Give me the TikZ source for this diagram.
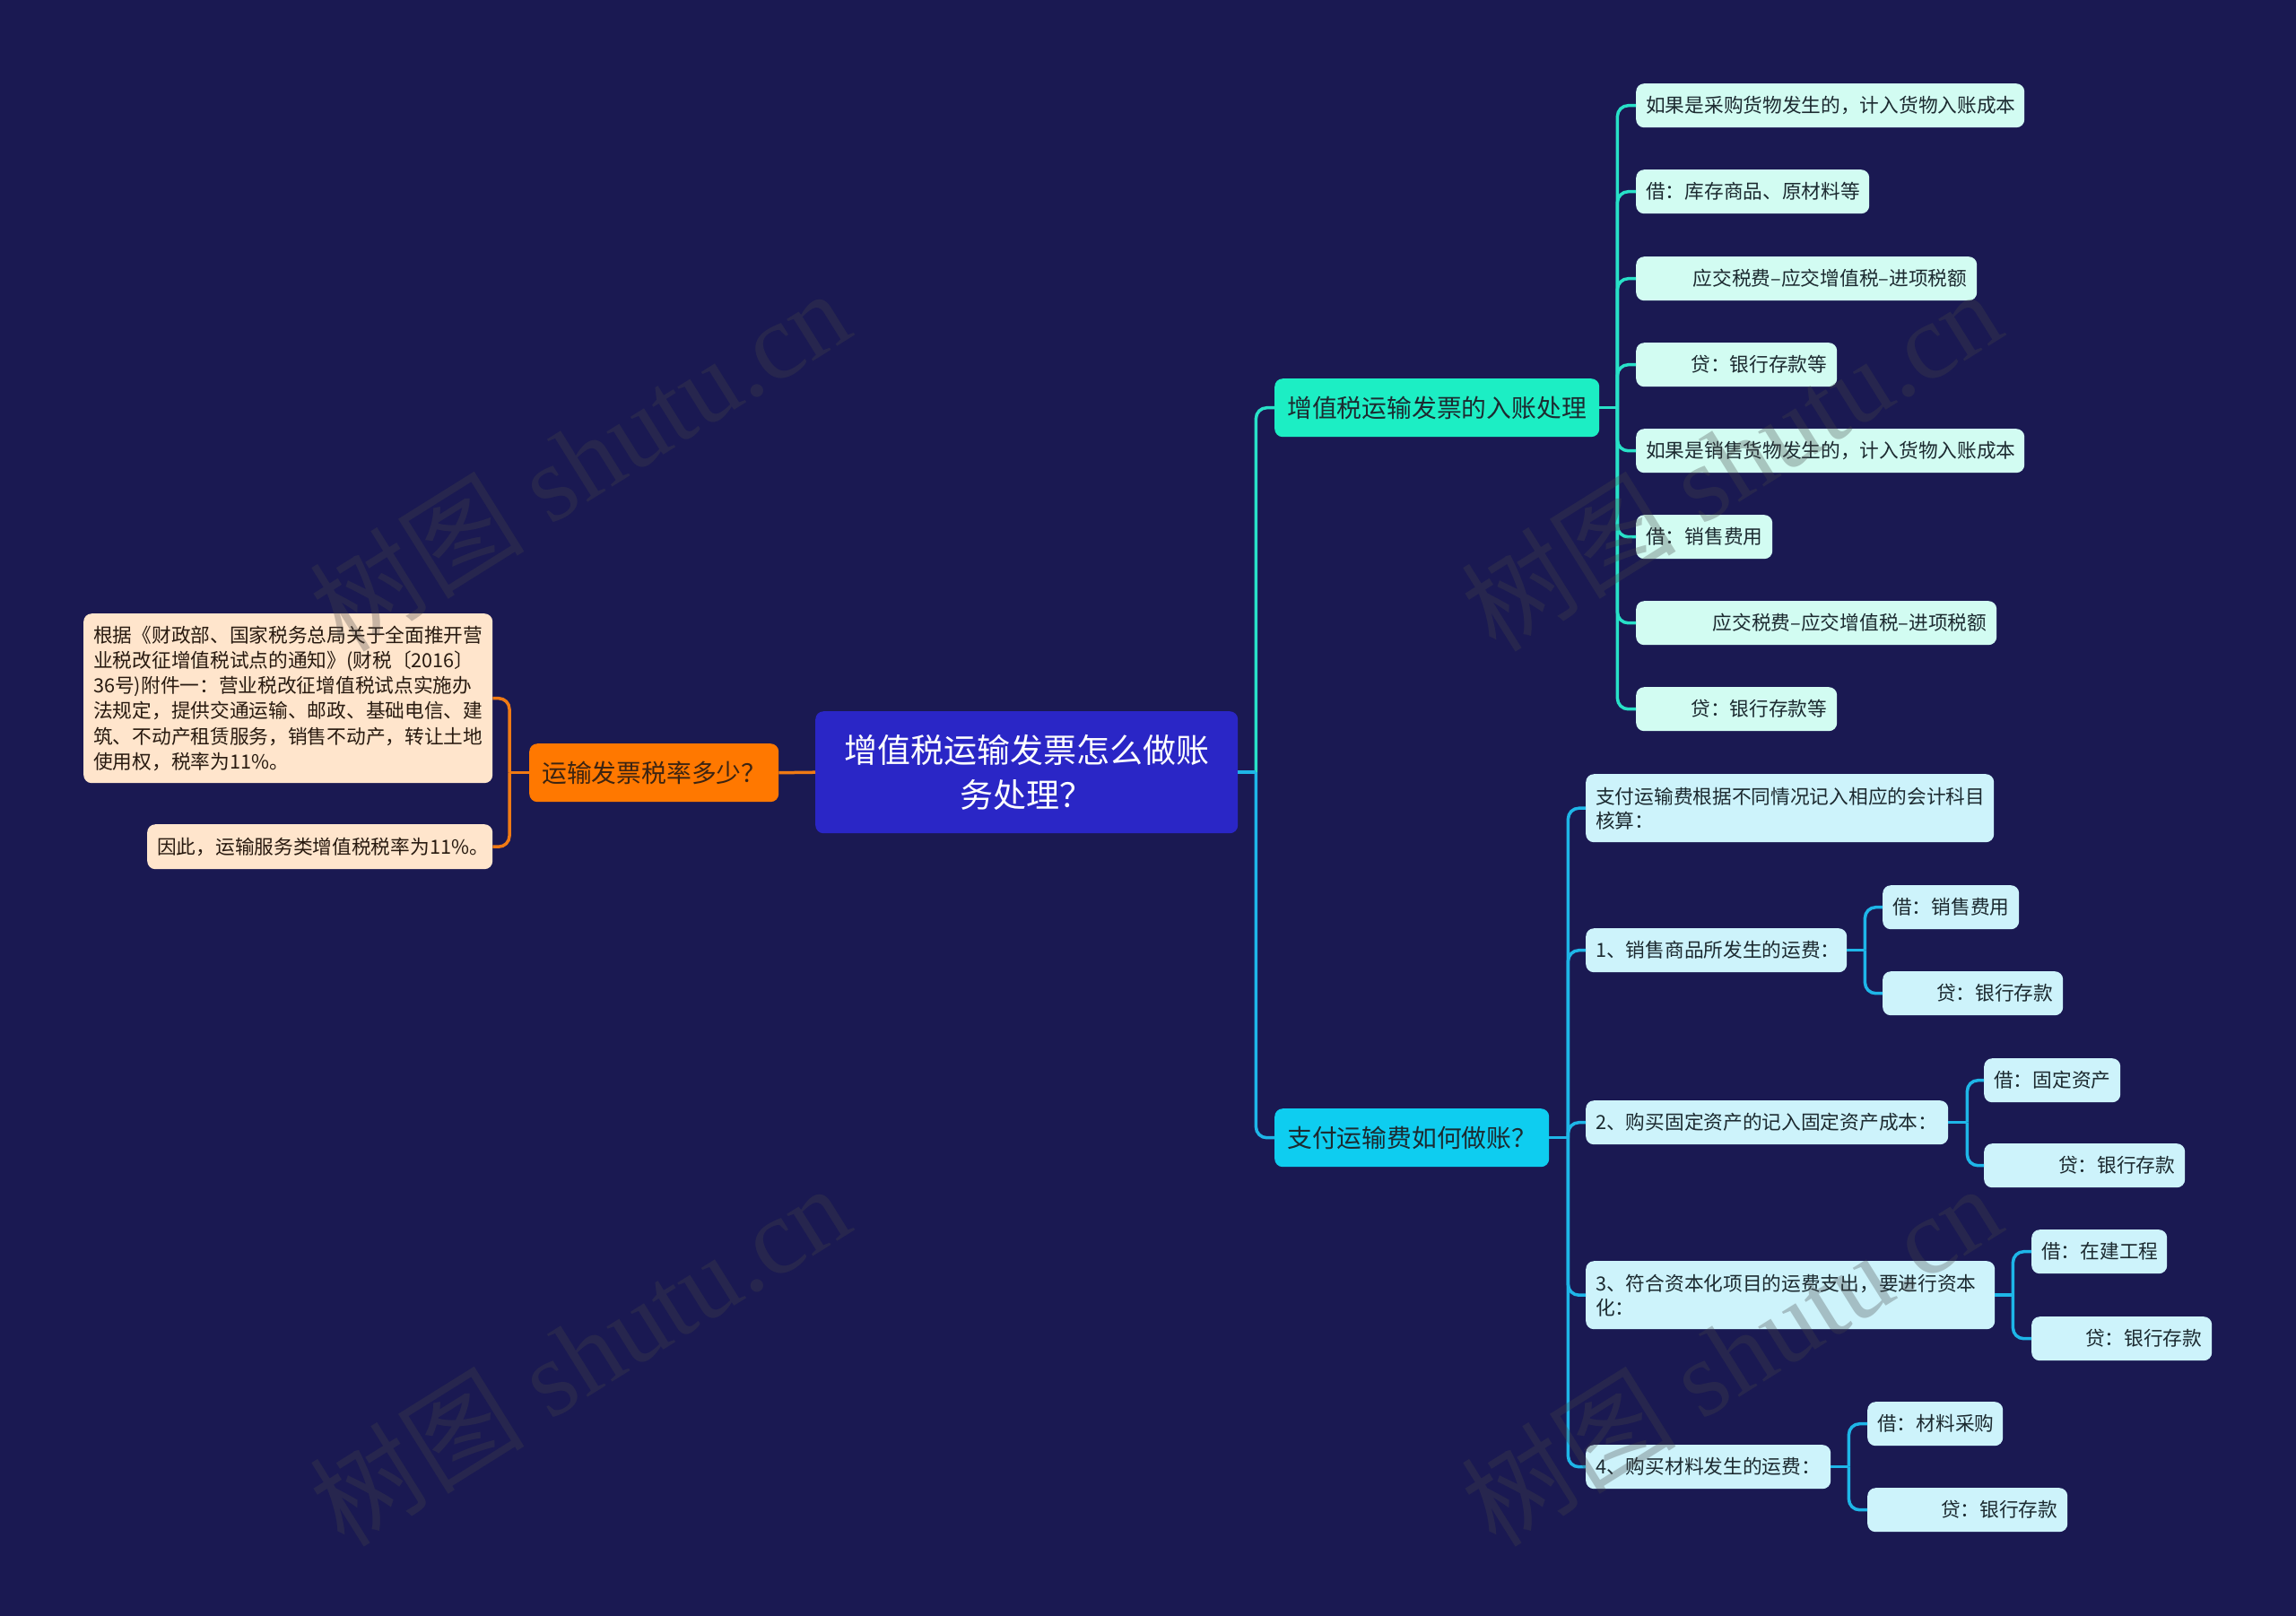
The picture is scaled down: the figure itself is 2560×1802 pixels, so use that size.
\documentclass[tikz,border=0pt]{standalone}
\usepackage{fontspec}
\newfontfamily\cjk{Noto Sans CJK SC}
\newfontfamily\wmser{Liberation Serif}
\usetikzlibrary{calc}
\definecolor{bgc}{RGB}{26,25,82}
\definecolor{mainc}{RGB}{42,38,198}
\definecolor{greenc}{RGB}{28,238,196}
\definecolor{bluec}{RGB}{14,205,240}
\definecolor{leafTc}{RGB}{210,252,242}
\definecolor{leafBc}{RGB}{205,243,251}
\definecolor{orangec}{RGB}{255,120,0}
\definecolor{peachc}{RGB}{255,229,204}
\definecolor{tealline}{RGB}{40,225,200}
\definecolor{blueline}{RGB}{30,182,232}
\definecolor{orangeline}{RGB}{240,122,20}
\definecolor{txtdark}{RGB}{28,42,48}
\definecolor{txtbrown}{RGB}{60,36,18}
\definecolor{txtpeach}{RGB}{40,26,16}
\definecolor{wmc}{RGB}{70,70,70}
\tikzset{
  box/.style={anchor=north west, inner ysep=0pt, rounded corners=9pt},
  leafT/.style={box, fill=leafTc, text=txtdark, inner xsep=11pt, minimum height=49pt,
    align=left, font=\cjk\fontsize{21.7pt}{27pt}\selectfont},
  leafTr/.style={leafT, align=right},
  leafB/.style={leafT, fill=leafBc},
  leafBr/.style={leafB, align=right},
  peach/.style={box, fill=peachc, text=txtpeach, inner xsep=11pt,
    align=left, font=\cjk\fontsize{21.7pt}{28.3pt}\selectfont},
  sub/.style={box, inner xsep=14pt, minimum height=65pt, align=left,
    font=\cjk\fontsize{27.8pt}{34pt}\selectfont},
  conn/.style={line width=3.5pt, rounded corners=12pt},
  wm/.style={text=wmc, opacity=0.3, rotate=32, inner sep=0pt}
}
\begin{document}
\begin{tikzpicture}[x=1pt,y=-1pt]
\useasboundingbox (0,0) rectangle (2560,1802);
\fill[bgc] (0,0) rectangle (2560,1802);

% central topic
\node[box, fill=mainc, text=white, inner xsep=0pt, text width=471pt, minimum height=136pt,
  align=center, font=\cjk\fontsize{37pt}{50pt}\selectfont] (main) at (909,793)
  {增值税运输发票怎么做账\\务处理？};

% first level
\node[sub, fill=greenc, text=txtdark, text width=334pt] (green) at (1421,422) {增值税运输发票的入账处理};
\node[sub, fill=bluec, text=txtdark, text width=278pt] (blue) at (1421,1236) {支付运输费如何做账？};
\node[sub, fill=orangec, text=txtbrown, text width=250pt] (orange) at (590,829) {运输发票税率多少？};

% left details
\node[peach, text width=434pt, minimum height=189pt] (long) at (93,684)
  {根据《财政部、国家税务总局关于全面推开营\\业税改征增值税试点的通知》(财税〔2016〕\\36号)附件一：营业税改征增值税试点实施办\\法规定，提供交通运输、邮政、基础电信、建\\筑、不动产租赁服务，销售不动产，转让土地\\使用权，税率为11\%。};
\node[peach, text width=363pt, minimum height=50pt] (short) at (164,919)
  {因此，运输服务类增值税税率为11\%。};

% top group leaves
\node[leafT, text width=411pt] (t1) at (1824,93) {如果是采购货物发生的，计入货物入账成本};
\node[leafT, text width=238pt] (t2) at (1824,189) {借：库存商品、原材料等};
\node[leafTr, text width=358pt] (t3) at (1824,286) {应交税费–应交增值税–进项税额};
\node[leafTr, text width=202pt] (t4) at (1824,382) {贷：银行存款等};
\node[leafT, text width=411pt] (t5) at (1824,478) {如果是销售货物发生的，计入货物入账成本};
\node[leafT, text width=130pt] (t6) at (1824,574) {借：销售费用};
\node[leafTr, text width=380pt] (t7) at (1824,670) {应交税费–应交增值税–进项税额};
\node[leafTr, text width=202pt] (t8) at (1824,766) {贷：银行存款等};

% bottom group
\node[leafB, text width=433pt, minimum height=76pt] (a) at (1768,863)
  {支付运输费根据不同情况记入相应的会计科目\\核算：};
\node[leafB, text width=269pt] (b) at (1768,1035) {1、销售商品所发生的运费：};
\node[leafB, text width=130pt] (b1) at (2099,987) {借：销售费用};
\node[leafBr, text width=179pt] (b2) at (2099,1083) {贷：银行存款};
\node[leafB, text width=382pt] (c) at (1768,1227) {2、购买固定资产的记入固定资产成本：};
\node[leafB, text width=130pt] (c1) at (2212,1180) {借：固定资产};
\node[leafBr, text width=202pt] (c2) at (2212,1275) {贷：银行存款};
\node[leafB, text width=434pt, minimum height=76pt] (d) at (1768,1406)
  {3、符合资本化项目的运费支出，要进行资本\\化：};
\node[leafB, text width=129pt] (d1) at (2265,1371) {借：在建工程};
\node[leafBr, text width=179pt] (d2) at (2265,1468) {贷：银行存款};
\node[leafB, text width=251pt] (e) at (1768,1611) {4、购买材料发生的运费：};
\node[leafB, text width=129pt] (e1) at (2082,1563) {借：材料采购};
\node[leafBr, text width=201pt] (e2) at (2082,1659) {贷：银行存款};

% junctions
\coordinate (mj) at ($(main.east)+(20,0)$);
\coordinate (oj) at ($(orange.west)+(-22,0)$);
\coordinate (gj) at ($(green.east)+(20,0)$);
\coordinate (bj) at ($(blue.east)+(21,0)$);
\coordinate (bbj) at ($(b.east)+(20,0)$);
\coordinate (cj) at ($(c.east)+(21,0)$);
\coordinate (dj) at ($(d.east)+(20,0)$);
\coordinate (ej) at ($(e.east)+(20,0)$);

% connectors
\draw[conn, orangeline] (main.west) -- (orange.east);
\draw[conn, orangeline] (orange.west) -- (oj);
\draw[conn, orangeline] (oj) |- (long.east);
\draw[conn, orangeline] (oj) |- (short.east);

\draw[conn, tealline] (mj) |- (green.west);
\draw[conn, blueline] (mj) |- (blue.west);
\draw[conn, blueline] (main.east) -- (mj);

\draw[conn, tealline] (green.east) -- (gj);
\foreach \n in {t1,t2,t3,t4,t5,t6,t7,t8}
  \draw[conn, tealline] (gj) |- (\n.west);

\draw[conn, blueline] (blue.east) -- (bj);
\foreach \n in {a,b,c,d,e}
  \draw[conn, blueline] (bj) |- (\n.west);

\draw[conn, blueline] (b.east) -- (bbj);
\draw[conn, blueline] (bbj) |- (b1.west);
\draw[conn, blueline] (bbj) |- (b2.west);
\draw[conn, blueline] (c.east) -- (cj);
\draw[conn, blueline] (cj) |- (c1.west);
\draw[conn, blueline] (cj) |- (c2.west);
\draw[conn, blueline] (d.east) -- (dj);
\draw[conn, blueline] (dj) |- (d1.west);
\draw[conn, blueline] (dj) |- (d2.west);
\draw[conn, blueline] (e.east) -- (ej);
\draw[conn, blueline] (ej) |- (e1.west);
\draw[conn, blueline] (ej) |- (e2.west);

% watermarks
\node[wm] (wm1) at (646,512) {\fontsize{120pt}{120pt}\selectfont\cjk 树图\wmser\ shutu.cn};
\node[wm] (wm2) at (1930,512) {\fontsize{120pt}{120pt}\selectfont\cjk 树图\wmser\ shutu.cn};
\node[wm] (wm3) at (646,1510) {\fontsize{120pt}{120pt}\selectfont\cjk 树图\wmser\ shutu.cn};
\node[wm] (wm4) at (1930,1510) {\fontsize{120pt}{120pt}\selectfont\cjk 树图\wmser\ shutu.cn};
\end{tikzpicture}
\end{document}
